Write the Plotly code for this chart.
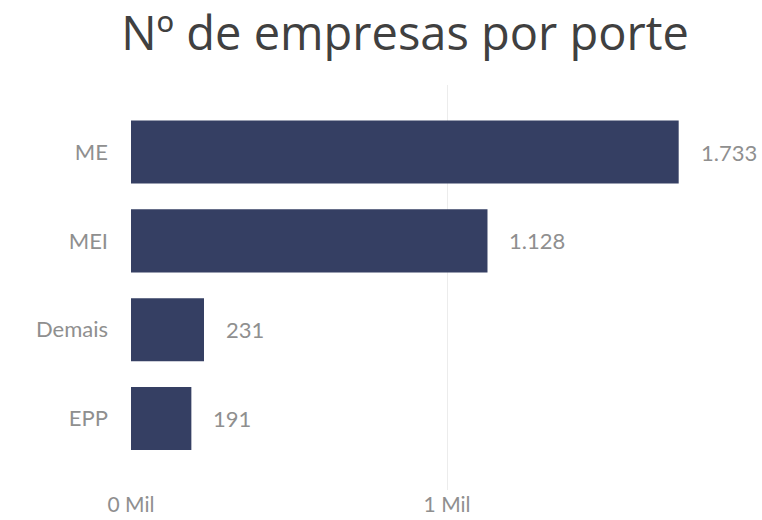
import plotly.graph_objects as go

# Number of companies by size class
categorias = ["ME", "MEI", "Demais", "EPP"]
empresas = [1733, 1128, 231, 191]
rotulos = ["1.733", "1.128", "231", "191"]
eixo_x_valores = [0, 1000]
eixo_x_rotulos = ["0 Mil", "1 Mil"]

cor_barra = "#353F63"
cor_texto = "#8f8f8f"

fig = go.Figure(
    go.Bar(
        x=empresas,
        y=categorias,
        orientation="h",
        marker=dict(color=cor_barra, line=dict(width=0)),
        width=0.71,
        hoverinfo="x+y",
    )
)

for cat, val, txt in zip(categorias, empresas, rotulos):
    fig.add_annotation(
        x=val, y=cat, text=txt, showarrow=False,
        xanchor="left", xshift=20,
        font=dict(family="Lato, sans-serif", size=22, color=cor_texto),
    )

fig.update_layout(
    width=762, height=520,
    margin=dict(l=131, r=22, t=85, b=30),
    paper_bgcolor="white", plot_bgcolor="white",
    showlegend=False,
    title=dict(
        text="Nº de empresas por porte",
        x=405 / 762, xanchor="center", xref="container",
        y=0.935, yanchor="middle",
        font=dict(family="Open Sans, sans-serif", size=47, color="#404040"),
    ),
)

fig.update_xaxes(
    range=[0, 1927], automargin=False,
    tickvals=eixo_x_valores, ticktext=eixo_x_rotulos,
    showgrid=True, gridcolor="#ececec", gridwidth=1,
    zeroline=False, showline=False,
    tickfont=dict(family="Lato, sans-serif", size=21, color=cor_texto),
)
fig.update_yaxes(
    categoryorder="array", categoryarray=categorias,
    range=[3.805, -0.755], automargin=False,
    showgrid=False, zeroline=False, showline=False,
    ticks="", ticklabelstandoff=22,
    tickfont=dict(family="Lato, sans-serif", size=22, color=cor_texto),
)

fig.write_html("out.html")
